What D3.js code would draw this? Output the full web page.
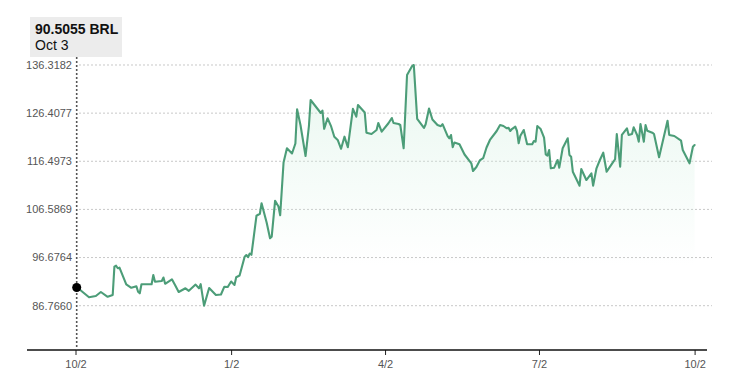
<!DOCTYPE html>
<html>
<head>
<meta charset="utf-8">
<script src="https://cdn.jsdelivr.net/npm/d3@7"></script>
<style>
  html, body { margin: 0; padding: 0; background: #ffffff; }
  svg { display: block; font-family: "Liberation Sans", Arial, Helvetica, sans-serif; }
</style>
</head>
<body>
<svg id="chart" width="755" height="392"></svg>
<script>
// ---------- data ----------
const dates = [
  "2023-10-03","2023-10-10","2023-10-14","2023-10-17","2023-10-21","2023-10-24","2023-10-25","2023-10-26","2023-10-27","2023-10-28",
  "2023-11-01","2023-11-04","2023-11-07","2023-11-08","2023-11-09","2023-11-10","2023-11-16","2023-11-17","2023-11-18","2023-11-22",
  "2023-11-23","2023-11-24","2023-11-28","2023-11-30","2023-12-02","2023-12-06","2023-12-08","2023-12-12","2023-12-14","2023-12-15",
  "2023-12-17","2023-12-20","2023-12-24","2023-12-27","2023-12-29","2023-12-31","2024-01-02","2024-01-04","2024-01-05","2024-01-07",
  "2024-01-10","2024-01-11","2024-01-12","2024-01-13","2024-01-14","2024-01-17","2024-01-19","2024-01-20","2024-01-23","2024-01-25",
  "2024-01-26","2024-01-28","2024-01-30","2024-01-31","2024-02-02","2024-02-04","2024-02-07","2024-02-09","2024-02-10","2024-02-12",
  "2024-02-15","2024-02-17","2024-02-18","2024-02-24","2024-02-25","2024-02-26","2024-02-28","2024-03-01","2024-03-03","2024-03-05",
  "2024-03-07","2024-03-09","2024-03-11","2024-03-14","2024-03-16","2024-03-17","2024-03-21","2024-03-22","2024-03-25","2024-03-28",
  "2024-03-29","2024-03-31","2024-04-04","2024-04-06","2024-04-07","2024-04-10","2024-04-11","2024-04-13","2024-04-15","2024-04-18",
  "2024-04-19","2024-04-21","2024-04-25","2024-04-26","2024-04-28","2024-04-30","2024-05-03","2024-05-05","2024-05-06","2024-05-09",
  "2024-05-10","2024-05-11","2024-05-12","2024-05-13","2024-05-16","2024-05-19","2024-05-23","2024-05-24","2024-05-26","2024-05-28",
  "2024-05-30","2024-06-01","2024-06-03","2024-06-07","2024-06-09","2024-06-11","2024-06-13","2024-06-14","2024-06-15","2024-06-16",
  "2024-06-18","2024-06-19","2024-06-20","2024-06-21","2024-06-23","2024-06-25","2024-06-28","2024-06-29","2024-06-30","2024-07-01",
  "2024-07-03","2024-07-05","2024-07-06","2024-07-07","2024-07-08","2024-07-09","2024-07-11","2024-07-13","2024-07-14","2024-07-16",
  "2024-07-19","2024-07-20","2024-07-21","2024-07-22","2024-07-26","2024-07-27","2024-07-30","2024-08-02","2024-08-03","2024-08-05",
  "2024-08-07","2024-08-09","2024-08-11","2024-08-15","2024-08-16","2024-08-17","2024-08-19","2024-08-20","2024-08-23","2024-08-24",
  "2024-08-26","2024-08-27","2024-08-29","2024-08-30","2024-08-31","2024-09-02","2024-09-03","2024-09-04","2024-09-07","2024-09-08",
  "2024-09-11","2024-09-16","2024-09-17","2024-09-20","2024-09-24","2024-09-25","2024-09-29","2024-10-01","2024-10-02"
];
const values = [
  90.5055,88.50,88.76,89.59,88.60,88.97,94.80,95.00,94.47,94.59,
  91.17,90.45,90.76,89.65,89.32,91.17,91.17,93.09,91.69,91.85,
  92.57,91.28,92.20,90.93,89.59,90.35,89.83,91.11,90.35,91.19,
  86.766,90.41,88.97,89.07,90.68,90.62,91.75,91.03,92.63,92.98,
  96.85,97.20,96.75,97.51,97.25,105.29,105.69,107.85,103.89,100.64,
  100.97,108.38,107.19,105.38,116.25,119.17,118.10,120.16,127.20,123.97,
  117.58,123.76,129.11,126.44,126.95,123.18,125.35,123.80,121.56,120.88,
  119.07,121.56,119.38,127.30,125.68,128.08,126.54,122.38,122.11,122.94,
  124.38,122.59,124.32,125.41,124.38,124.17,123.97,119.17,134.26,136.10,
  136.3182,125.24,123.35,124.13,127.36,125.10,123.97,123.72,124.13,121.66,
  121.23,121.91,119.40,120.36,120.01,117.89,116.08,114.50,115.32,116.66,
  117.13,119.34,120.88,122.73,123.97,123.76,123.29,123.41,122.73,123.14,
  123.62,122.73,120.20,121.76,122.94,119.99,119.99,120.67,120.53,123.76,
  123.14,121.35,117.93,117.65,118.82,115.05,115.18,116.76,115.18,119.17,
  121.23,117.79,117.44,114.35,111.47,114.91,112.64,114.02,111.47,115.05,
  116.76,118.26,114.35,116.41,116.91,122.11,115.38,121.91,123.29,121.91,
  122.11,123.49,121.91,120.53,124.17,120.53,123.97,122.79,122.38,122.11,
  117.32,124.85,121.91,121.70,120.73,118.82,116.08,119.50,119.85
];
const yTickValues = [86.7660, 96.6764, 106.5869, 116.4973, 126.4077, 136.3182];
const yTickLabels = ["86.7660", "96.6764", "106.5869", "116.4973", "126.4077", "136.3182"];
const xTickDates = ["2023-10-02", "2024-01-02", "2024-04-02", "2024-07-02", "2024-10-02"];
const xDomainDates = ["2023-10-02", "2024-10-02"];
const yDomain = [77.646, 137.965];
const hoverValueLabel = "90.5055 BRL";
const hoverDateLabel = "Oct 3";
const hoverIndex = 0;

// ---------- setup ----------
const parse = d3.timeParse("%Y-%m-%d");
const data = dates.map((d, i) => ({ date: parse(d), value: values[i] }));

const svg = d3.select("#chart");
const plotTop = 57, plotBottom = 350;
const x = d3.scaleTime().domain(xDomainDates.map(parse)).range([75.5, 694.6]);
const y = d3.scaleLinear().domain(yDomain).range([plotBottom, plotTop]);

// gradient for area
const defs = svg.append("defs");
const grad = defs.append("linearGradient")
  .attr("id", "areaGrad").attr("gradientUnits", "userSpaceOnUse")
  .attr("x1", 0).attr("x2", 0).attr("y1", y(136.3182)).attr("y2", y(95));
grad.append("stop").attr("offset", "0%").attr("stop-color", "#d6f1e3").attr("stop-opacity", 0.55);
grad.append("stop").attr("offset", "100%").attr("stop-color", "#d6f1e3").attr("stop-opacity", 0);

// gridlines
svg.append("g").selectAll("line").data(yTickValues).join("line")
  .attr("x1", 79).attr("x2", 712)
  .attr("y1", d => y(d)).attr("y2", d => y(d))
  .attr("stroke", "#c8c8c8").attr("stroke-width", 1).attr("stroke-dasharray", "2,2");

// y labels
svg.append("g").selectAll("text").data(yTickValues).join("text")
  .attr("x", 72).attr("y", d => y(d)).attr("dy", "0.35em")
  .attr("text-anchor", "end").attr("font-size", 11).attr("fill", "#555")
  .text((d, i) => yTickLabels[i]);

// area
const area = d3.area().x(d => x(d.date)).y0(plotBottom).y1(d => y(d.value));
svg.append("path").datum(data).attr("d", area).attr("fill", "url(#areaGrad)");

// line
const line = d3.line().x(d => x(d.date)).y(d => y(d.value));
svg.append("path").datum(data).attr("d", line)
  .attr("fill", "none").attr("stroke", "#4c9d78").attr("stroke-width", 2.1)
  .attr("stroke-linejoin", "round").attr("stroke-linecap", "round");

// x axis
const xAxis = d3.axisBottom(x)
  .tickValues(xTickDates.map(parse))
  .tickFormat(d3.timeFormat("%-m/%-d"))
  .tickSize(5).tickPadding(5);
const gx = svg.append("g").attr("transform", `translate(0,${plotBottom})`).call(xAxis);
gx.select(".domain").remove();
gx.selectAll(".tick line").attr("stroke", "#222").attr("stroke-width", 1);
gx.selectAll(".tick text").attr("font-size", 11).attr("fill", "#555")
  .attr("font-family", "'Liberation Sans', Arial, sans-serif");
svg.append("line").attr("x1", 27).attr("x2", 707).attr("y1", plotBottom).attr("y2", plotBottom)
  .attr("stroke", "#111").attr("stroke-width", 1.5);

// hover line and dot
const hp = data[hoverIndex];
svg.append("line")
  .attr("x1", x(hp.date) - 0.5).attr("x2", x(hp.date) - 0.5)
  .attr("y1", plotTop).attr("y2", plotBottom)
  .attr("stroke", "#555").attr("stroke-width", 1.6).attr("stroke-dasharray", "2,2");
svg.append("circle").attr("cx", x(hp.date) - 0.5).attr("cy", y(hp.value)).attr("r", 4.5).attr("fill", "#000");

// hover label box
const box = svg.append("g");
box.append("rect").attr("x", 30).attr("y", 17).attr("width", 92).attr("height", 40).attr("fill", "#ececec");
box.append("text").attr("x", 35).attr("y", 34).attr("font-size", 14).attr("font-weight", "bold")
  .attr("fill", "#111").text(hoverValueLabel);
box.append("text").attr("x", 35).attr("y", 50).attr("font-size", 14)
  .attr("fill", "#111").text(hoverDateLabel);
</script>
</body>
</html>
